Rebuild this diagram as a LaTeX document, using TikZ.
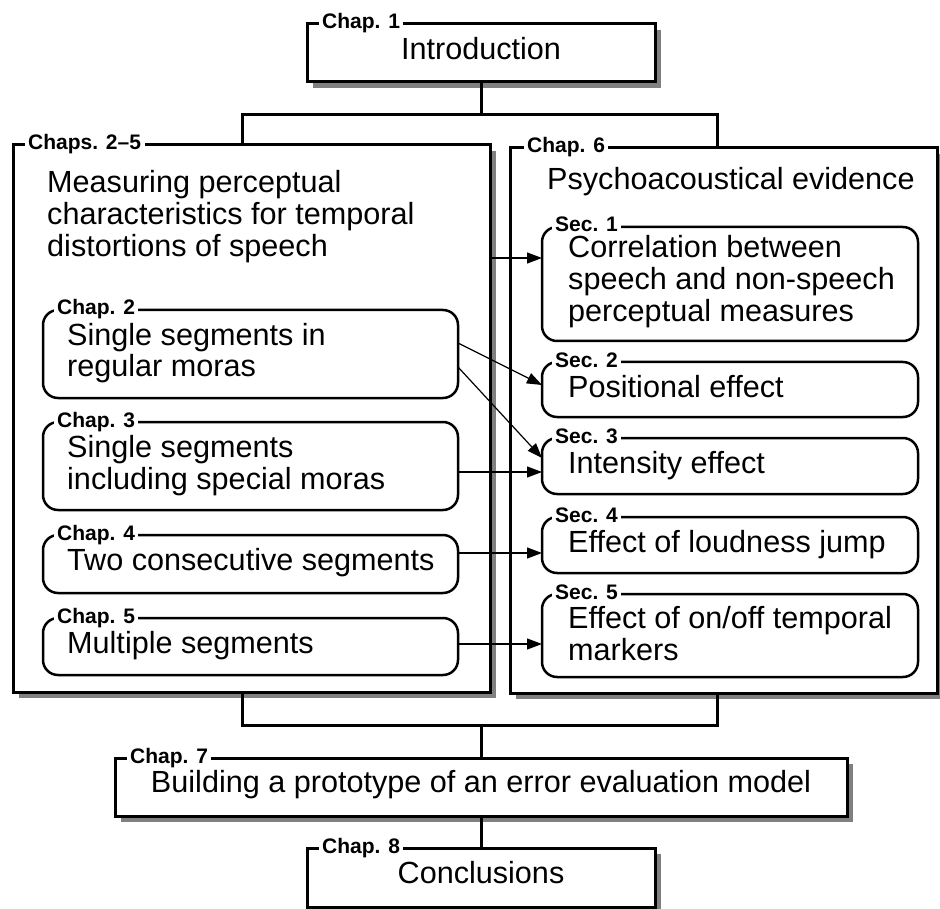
\documentclass[tikz,border=0pt]{standalone}
\usepackage{fontspec}
\setmainfont{Liberation Sans}
\usetikzlibrary{shadows,arrows.meta}

\tikzset{
  txt/.style={font=\fontsize{30.6}{32}\selectfont, inner sep=0pt, anchor=base west},
  ctxt/.style={font=\fontsize{30.6}{32}\selectfont, inner sep=0pt, anchor=base},
  tag/.style={font=\bfseries\fontsize{21}{23}\selectfont, fill=white,
    inner xsep=3.5pt, inner ysep=1pt, anchor=base west},
  frame/.style={draw, line width=3pt, fill=white, inner sep=0pt, outer sep=0pt,
    drop shadow={shadow xshift=6pt, shadow yshift=-6pt, fill=black!50, opacity=1}},
  sub/.style={draw, line width=2.5pt, fill=white, rounded corners=15pt,
    inner sep=0pt, outer sep=0pt},
  link/.style={line width=3pt},
  arr/.style={line width=1.2pt, -{Triangle[length=15pt,width=11pt]}},
}

% \placebox{style}{name}{x1}{y1}{x2}{y2}: empty box spanning the two corners
\newcommand\placebox[6]{%
  \node[#1, minimum width={(#5-#3)*1pt}, minimum height={(#6-#4)*1pt}]
    (#2) at ({(#3+#5)/2},{(#4+#6)/2}) {};}
\newcommand\lines[1]{\begin{tabular}[t]{@{}l@{}}#1\end{tabular}}

\begin{document}
\begin{tikzpicture}[x=1pt,y=-1pt]
\useasboundingbox (0,0) rectangle (940,909);
\clip (0,0) rectangle (940,909);

% outer chapter frames
\placebox{frame}{intro}{307}{24}{655}{82}
\placebox{frame}{big}{13}{145}{490}{692}
\placebox{frame}{evid}{510}{148}{937}{693}
\placebox{frame}{c7}{115}{758}{847}{816}
\placebox{frame}{c8}{307}{848}{655}{907}

% chapter boxes inside the left frame
\placebox{sub}{c2}{43}{310}{458}{398}
\placebox{sub}{c3}{43}{422}{458}{510}
\placebox{sub}{c4}{43}{535}{458}{593}
\placebox{sub}{c5}{43}{618}{458}{675}

% section boxes inside the right frame
\placebox{sub}{s1}{542}{227}{918}{341}
\placebox{sub}{s2}{542}{362}{918}{417}
\placebox{sub}{s3}{542}{438}{918}{494}
\placebox{sub}{s4}{542}{517}{918}{573}
\placebox{sub}{s5}{542}{594}{918}{677}

% labels sitting on the top borders
\node[tag] (t1) at (318.5,29) {Chap. 1};
\node[tag] (tbig) at (24.5,150) {Chaps. 2–5};
\node[tag] (tevid) at (523.5,153) {Chap. 6};
\node[tag] (t2) at (53.5,315) {Chap. 2};
\node[tag] (t3) at (53.5,427) {Chap. 3};
\node[tag] (t4) at (53.5,540) {Chap. 4};
\node[tag] (t5) at (53.5,623) {Chap. 5};
\node[tag] (u1) at (551.5,232) {Sec. 1};
\node[tag] (u2) at (551.5,367) {Sec. 2};
\node[tag] (u3) at (551.5,443) {Sec. 3};
\node[tag] (u4) at (551.5,522) {Sec. 4};
\node[tag] (u5) at (551.5,599) {Sec. 5};
\node[tag] (t7) at (126.5,763) {Chap. 7};
\node[tag] (t8) at (318.5,853) {Chap. 8};

% box texts
\node[ctxt] (x1) at (481,60) {Introduction};
\node[txt] (xbig) at (47,193) {\lines{Measuring perceptual\\characteristics for temporal\\distortions of speech}};
\node[txt] (xevid) at (547,190) {Psychoacoustical evidence};
\node[txt] (x2) at (67,345) {\lines{Single segments in\\regular moras}};
\node[txt] (x3) at (67,457) {\lines{Single segments\\including special moras}};
\node[txt] (x4) at (67,570) {Two consecutive segments};
\node[txt] (x5) at (67,653) {Multiple segments};
\node[txt] (y1) at (568,258) {\lines{Correlation between\\speech and non-speech\\perceptual measures}};
\node[txt] (y2) at (568,397) {Positional effect};
\node[txt] (y3) at (568,473) {Intensity effect};
\node[txt] (y4) at (568,552) {Effect of loudness jump};
\node[txt] (y5) at (568,628) {\lines{Effect of on/off temporal\\markers}};
\node[ctxt] (x7) at (481,792) {Building a prototype of an error evaluation model};
\node[ctxt] (x8) at (481,883) {Conclusions};

% junction points of the tree connectors
\coordinate (jl) at (242,115);
\coordinate (jr) at (717,115);
\coordinate (kl) at (242,725);
\coordinate (kr) at (717,725);

\draw[link] (intro.south) -- (intro.south |- jl);
\draw[link] (big.north -| jl) |- (jr) -- (evid.north -| jr);
\draw[link] (big.south -| kl) |- (kr) -- (evid.south -| kr);
\draw[link] (c7.north) -- (c7.north |- kl);
\draw[link] (c7.south) -- (c8.north);

% relations between chapters and sections
\draw[arr] ([yshift=160.5pt]big.east) -- ([yshift=26pt]s1.west);
\draw[arr] ([yshift=11pt]c2.east) -- ([yshift=4.5pt]s2.west);
\draw[arr] ([yshift=-13pt]c2.east) -- ([yshift=8pt]s3.west);
\draw[arr] ([yshift=-6pt]c3.east) -- ([yshift=-6pt]s3.west);
\draw[arr] ([yshift=11pt]c4.east) -- ([yshift=-8pt]s4.west);
\draw[arr] ([yshift=2.5pt]c5.east) -- ([yshift=-8.5pt]s5.west);
\end{tikzpicture}
\end{document}
